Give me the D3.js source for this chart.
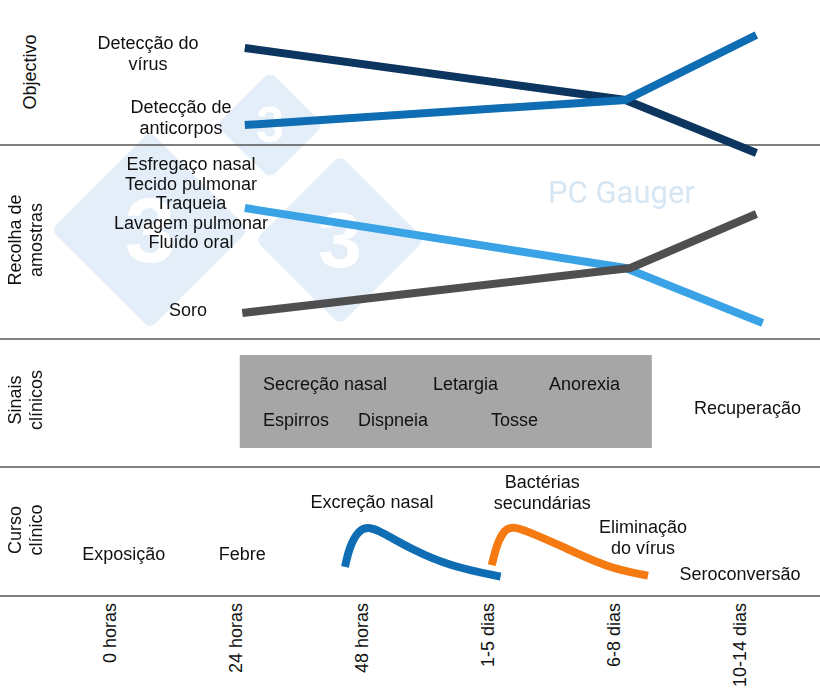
<!DOCTYPE html>
<html><head><meta charset="utf-8">
<script src="https://cdn.jsdelivr.net/npm/d3@7"></script>
<style>body{margin:0;background:#fff}text{font-family:"Liberation Sans",Arial,sans-serif;font-size:18px;fill:#111}</style>
</head><body>
<svg id="c" width="820" height="693"></svg>
<script>
const stages = ["0 horas","24 horas","48 horas","1-5 dias","6-8 dias","10-14 dias"]
// [stage position, relative level]
const virusDetect = [[1.07,0.85],[4.09,0.417],[5.13,-0.025]]
const antibodyDetect = [[1.07,0.208],[4.09,0.417],[5.13,0.958]]
const fluidSamples = [[1.07,0.938],[4.09,0.477],[5.18,0.054]]
const serumSamples = [[1.05,0.131],[4.13,0.477],[5.13,0.892]]
const nasalShedding = [[1.865,0.24],[1.9,0.6],[1.97,0.9],[2.05,0.97],[2.15,0.88],[2.4,0.55],[2.7,0.25],[3.1,0.06]]
const secondaryBact = [[3.03,0.27],[3.07,0.65],[3.13,0.92],[3.2,0.97],[3.3,0.9],[3.6,0.6],[3.95,0.22],[4.27,0.08]]
// [sign, stage position of text start, row]
const signs = [["Secreção nasal",1.214,0],["Letargia",2.563,0],["Anorexia",3.484,0],["Espirros",1.214,1],["Dispneia",1.968,1],["Tosse",3.024,1]]
// [lines, stage position (centre), baseline]
const events = [[["Exposição"],0.11,560],[["Febre"],1.05,560],[["Excreção nasal"],2.08,508],
  [["Bactérias","secundárias"],3.43,488],[["Eliminação","do vírus"],4.23,533],[["Seroconversão"],5.0,580],[["Recuperação"],5.06,414]]

const svg = d3.select("#c")
const x = d3.scaleLinear().domain([0,5]).range([110,740])
const yObj = d3.scaleLinear().domain([0,1]).range([150,30])
const yRec = d3.scaleLinear().domain([0,1]).range([330,200])
const yCur = d3.scaleLinear().domain([0,1]).range([580,525])

// watermark
const wm = svg.append("g").attr("opacity",0.13)
;[[150,230,70],[270,125,38],[340,240,60]].forEach(([cx,cy,s])=>{
  wm.append("rect").attr("x",cx-s).attr("y",cy-s).attr("width",2*s).attr("height",2*s).attr("rx",8)
    .attr("fill","#2a7fc4").attr("transform",`rotate(45,${cx},${cy})`)
  wm.append("text").attr("x",cx).attr("y",cy+s*0.45).attr("text-anchor","middle")
    .style("font-size",s*1.3+"px").style("font-weight","bold").style("fill","#fff").text("3")
})
svg.append("text").attr("x",548).attr("y",203).style("font-size","31px").style("font-family","Roboto").style("fill","#d6e6f3").text("PC Gauger")

// separators
;[145,339,467,596].forEach(y=>svg.append("line").attr("x1",0).attr("x2",820).attr("y1",y).attr("y2",y).attr("stroke","#555").attr("stroke-width",1.5))

// side labels
const side = [[["Objectivo"],72],[["Recolha de","amostras"],240],[["Sinais","clínicos"],400],[["Curso","clínico"],530]]
side.forEach(([lines,cy])=>{
  const t = svg.append("text").attr("transform",`translate(${lines.length>1?24:36},${cy}) rotate(-90)`).attr("text-anchor","middle")
  lines.forEach((l,i)=>t.append("tspan").attr("x",0).attr("dy",i?21:(lines.length>1?-3:0)).text(l))
})

const line = d3.line().x(d=>x(d[0]))
function draw(data,ys,color,curve){
  svg.append("path").datum(data).attr("d",line.y(d=>ys(d[1])).curve(curve||d3.curveLinear))
    .attr("fill","none").attr("stroke",color).attr("stroke-width",8)
}
draw(virusDetect,yObj,"#0c355f")
draw(antibodyDetect,yObj,"#0f6db3")
draw(fluidSamples,yRec,"#3aa3e6")
draw(serumSamples,yRec,"#4f4f4f")
draw(nasalShedding,yCur,"#0f6db3",d3.curveBasis)
draw(secondaryBact,yCur,"#f57a12",d3.curveBasis)

function label(lines,px,py,anchor,dy){
  const t = svg.append("text").attr("x",px).attr("y",py).attr("text-anchor",anchor||"middle")
  lines.forEach((l,i)=>t.append("tspan").attr("x",px).attr("dy",i?(dy||21):0).text(l))
}
label(["Detecção do","vírus"],148,49)
label(["Detecção de","anticorpos"],181,113)
label(["Esfregaço nasal","Tecido pulmonar","Traqueia","Lavagem pulmonar","Fluído oral"],191,170,"middle",19.5)
label(["Soro"],188,316)

// clinical signs box
svg.append("rect").attr("x",x(1.03)).attr("y",355).attr("width",x(4.3)-x(1.03)).attr("height",93).attr("fill","#a6a6a6")
svg.selectAll(".sign").data(signs).join("text").attr("class","sign")
  .attr("x",d=>x(d[1])).attr("y",d=>390+d[2]*36).text(d=>d[0])

events.forEach(([l,p,b])=>label(l,x(p),b))

// bottom axis labels
svg.selectAll(".tick").data(stages).join("text").attr("class","tick")
  .attr("transform",(d,i)=>`translate(${x(i)+6},603) rotate(-90)`).attr("text-anchor","end").text(d=>d)
</script>
</body></html>
